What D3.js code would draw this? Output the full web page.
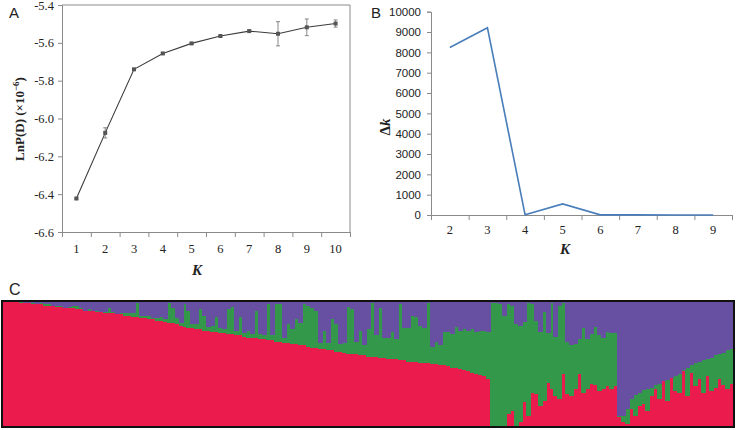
<!DOCTYPE html>
<html><head><meta charset="utf-8">
<script src="https://cdn.jsdelivr.net/npm/d3@7"></script>
<style>body{margin:0;background:#fff}svg{display:block}</style>
</head><body>
<svg id="c" width="737" height="430"></svg>
<script>
// ---- Panel A data ----
const kA = [1,2,3,4,5,6,7,8,9,10];
const lnPD = [-6.423,-6.076,-5.740,-5.656,-5.603,-5.564,-5.538,-5.552,-5.518,-5.498];
const lnPDsd = [0.004,0.027,0.004,0.004,0.004,0.004,0.004,0.064,0.044,0.019];
const yTicksA = [-6.6,-6.4,-6.2,-6.0,-5.8,-5.6,-5.4];
// ---- Panel B data ----
const kB = [2,3,4,5,6,7,8,9];
const deltaK = [8240,9210,15,545,8,4,3,2];
const yTicksB = [0,1000,2000,3000,4000,5000,6000,7000,8000,9000,10000];
// ---- Panel C data (percent membership per individual; purple = remainder) ----
const clusterRed = [
100,100,100,100,99,99, 99,98,98,98,97, 97,97,96,96,95,95, 95,94,94,93,93,93,92,92,
91,91,91,90,90,89, 89,88,88,87,87,86,86,85, 85,84,83,83,82,81,80,79, 79,78,78,77,77,76,76,75,
75,74,74,73,73,72,71, 71,71,70,70,69,69,68,68, 67,67,66,66,65,65,64,63, 63,62,62,61,61,60,60,59,
58,58,58,57,57,56, 56,56,55,55,54,54,54,53, 53,52,52,52,51,51,51,50,50,
49,49,48,47,47,46,45,44,43,42,41,40,38,
0,0,0,0,10,12,0,3,19,8,27,26,16,20,35,30,24,22,42,26,24,30,42,27,30,34,33,28,30,32,30,32,
7,3,2,14,8,16,18,12,24,30,22,36,20,39,28,27,44,24,43,32,38,27,40,28,31,38,33,30,34
];
const clusterGreen = [
0,0,0,0,1,0, 0,1,0,1,1, 1,0,1,1,0,1, 2,3,1,0,1,0,1,0,
1,4,1,0,1,2, 2,3,11,2,2,3,1,2, 3,2,16,12,5,2,18,14, 3,4,16,12,3,5,12,4,
3,20,22,4,15,3,6, 3,22,4,3,29,4,30,30, 4,15,12,20,18,33,33,32, 30,5,15,6,25,22,6,8,
38,36,10,20,8,22, 43,17,40,16,17,22,16,45, 26,27,37,36,30,28,48,14,18,
16,27,28,27,33,31,33,33,35,34,36,37,38,
99,99,98,89,88,85,82,78,65,91,71,59,60,72,40,69,48,75,57,42,41,36,28,52,40,40,47,45,41,44,45,43,
1,5,12,8,17,11,11,18,7,3,12,0,17,0,12,15,1,23,6,19,14,26,14,27,26,20,26,31,28
];

const svg = d3.select('#c');
const serif = 'Liberation Serif, Times New Roman, serif';
const sans = 'Liberation Sans, Arial, sans-serif';
const axisGray = '#8a8a8a';

function styleAxis(g, font, size){
  g.select('.domain').attr('stroke', axisGray);
  g.selectAll('.tick line').attr('stroke', axisGray);
  g.selectAll('.tick text').attr('font-family', font).attr('font-size', size).attr('fill', '#222');
}

// ================= Panel A =================
const xA = d3.scaleBand().domain(kA).range([62,350]);
const xAb = d3.scaleLinear().domain([0.5,10.5]).range([62,350]);
const yA = d3.scaleLinear().domain([-6.6,-5.4]).range([232,5]);
const gA = svg.append('g');
gA.append('line').attr('x1',62).attr('x2',350).attr('y1',yA(-5.4)).attr('y2',yA(-5.4)).attr('stroke',axisGray);
gA.append('line').attr('x1',350).attr('x2',350).attr('y1',yA(-5.4)).attr('y2',yA(-6.6)).attr('stroke',axisGray);
gA.append('g').attr('transform','translate(62,0)')
  .call(d3.axisLeft(yA).tickValues(yTicksA).tickSize(4).tickPadding(4).tickFormat(d=>d.toFixed(1)))
  .call(g=>styleAxis(g, serif, 12.5));
gA.append('g').attr('transform','translate(0,232)')
  .call(d3.axisBottom(xAb).tickValues(d3.range(0.5,11,1)).tickSize(5).tickFormat(''))
  .call(g=>styleAxis(g, serif, 12.5));
gA.append('g').attr('transform','translate(0,232)')
  .call(d3.axisBottom(xA).tickSize(0).tickPadding(12))
  .call(g=>{g.select('.domain').remove(); styleAxis(g, serif, 12.5);});
const ptsA = kA.map((k,i)=>({k, v:lnPD[i], e:lnPDsd[i]}));
const cx = d=>xA(d.k)+xA.bandwidth()/2;
gA.append('path').datum(ptsA).attr('fill','none').attr('stroke','#3c3c3c').attr('stroke-width',1.1)
  .attr('d', d3.line().x(cx).y(d=>yA(d.v)));
const eb = gA.append('g').attr('stroke','#7a7a7a').attr('stroke-width',0.9);
ptsA.forEach(d=>{
  const x=cx(d), y1=yA(d.v+d.e), y2=yA(d.v-d.e);
  eb.append('line').attr('x1',x).attr('x2',x).attr('y1',y1).attr('y2',y2);
  eb.append('line').attr('x1',x-2).attr('x2',x+2).attr('y1',y1).attr('y2',y1);
  eb.append('line').attr('x1',x-2).attr('x2',x+2).attr('y1',y2).attr('y2',y2);
});
gA.selectAll('rect.m').data(ptsA).join('rect').attr('class','m')
  .attr('x',d=>cx(d)-2).attr('y',d=>yA(d.v)-2).attr('width',4).attr('height',4).attr('fill','#555');
gA.append('text').attr('transform','translate(24,119) rotate(-90)').attr('text-anchor','middle')
  .attr('font-family',serif).attr('font-weight','bold').attr('font-size',13).attr('fill','#222')
  .html('LnP(D) (×10<tspan dy="-5" font-size="9">−6</tspan><tspan dy="5">)</tspan>');
gA.append('text').attr('x',197).attr('y',275).attr('text-anchor','middle')
  .attr('font-family',serif).attr('font-weight','bold').attr('font-style','italic').attr('font-size',15).attr('fill','#222').text('K');
svg.append('text').attr('x',9).attr('y',18).attr('font-family',sans).attr('font-size',15).attr('fill','#222').text('A');

// ================= Panel B =================
const xB = d3.scaleBand().domain(kB).range([431,732]);
const xBb = d3.scaleLinear().domain([1.5,9.5]).range([431,732]);
const yB = d3.scaleLinear().domain([0,10000]).range([215,11.7]);
const gB = svg.append('g');
gB.append('g').attr('transform','translate(431,0)')
  .call(d3.axisLeft(yB).tickValues(yTicksB).tickSize(4).tickPadding(6).tickFormat(d3.format('d')))
  .call(g=>styleAxis(g, sans, 11.5));
gB.append('g').attr('transform','translate(0,215)')
  .call(d3.axisBottom(xBb).tickValues(d3.range(1.5,10,1)).tickSize(5).tickFormat(''))
  .call(g=>styleAxis(g, serif, 12.5));
gB.append('g').attr('transform','translate(0,215)')
  .call(d3.axisBottom(xB).tickSize(0).tickPadding(10))
  .call(g=>{g.select('.domain').remove(); styleAxis(g, serif, 12.5);});
gB.append('path').datum(kB.map((k,i)=>({k,v:deltaK[i]}))).attr('fill','none')
  .attr('stroke','#4a7ebb').attr('stroke-width',1.6)
  .attr('d', d3.line().x(d=>xB(d.k)+xB.bandwidth()/2).y(d=>yB(d.v)));
gB.append('text').attr('transform','translate(390,127) rotate(-90)').attr('text-anchor','middle')
  .attr('font-family',serif).attr('font-weight','bold').attr('font-size',15).attr('fill','#222')
  .html('Δ<tspan font-style="italic">k</tspan>');
gB.append('text').attr('x',565).attr('y',254).attr('text-anchor','middle')
  .attr('font-family',serif).attr('font-weight','bold').attr('font-style','italic').attr('font-size',15).attr('fill','#222').text('K');
svg.append('text').attr('x',371).attr('y',18).attr('font-family',sans).attr('font-size',15).attr('fill','#222').text('B');

// ================= Panel C =================
const n = clusterRed.length;
const xC = d3.scaleBand().domain(d3.range(n)).range([3,733]);
const yC = d3.scaleLinear().domain([0,100]).range([426,302]);
const colors = {red:'#ec1b4e', green:'#34984a', purple:'#6750a2'};
const rows = d3.range(n).map(i=>({i, red:clusterRed[i], green:clusterGreen[i], purple:100-clusterRed[i]-clusterGreen[i]}));
const stack = d3.stack().keys(['red','green','purple'])(rows);
const gC = svg.append('g').attr('shape-rendering','crispEdges');
gC.selectAll('g').data(stack).join('g').attr('fill',d=>colors[d.key])
  .selectAll('rect').data(d=>d).join('rect')
  .attr('x',d=>xC(d.data.i)).attr('width',xC.bandwidth()+1)
  .attr('y',d=>yC(d[1])).attr('height',d=>Math.max(0,yC(d[0])-yC(d[1])));
svg.append('rect').attr('x',2).attr('y',301).attr('width',732).attr('height',126)
  .attr('fill','none').attr('stroke','#111').attr('stroke-width',2);
svg.append('text').attr('x',9).attr('y',295).attr('font-family',sans).attr('font-size',16).attr('fill','#222').text('C');
</script>
</body></html>
